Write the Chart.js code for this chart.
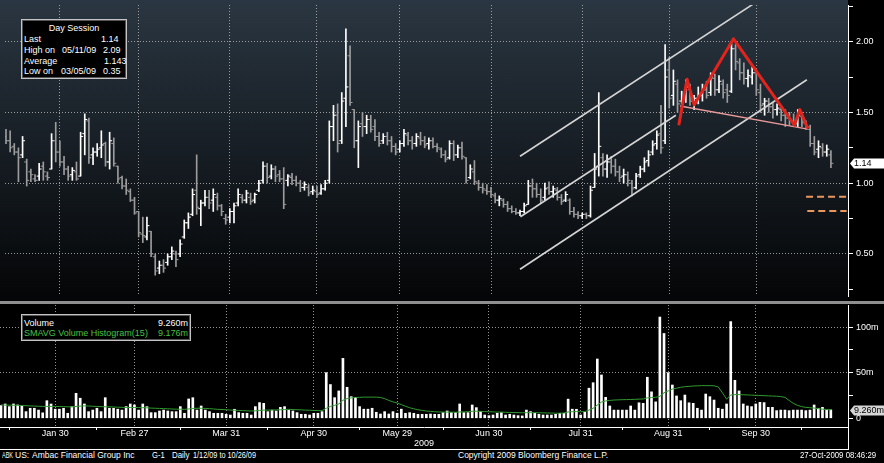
<!DOCTYPE html>
<html>
<head>
<meta charset="utf-8">
<script src="https://cdn.jsdelivr.net/npm/chart.js@4.4.1/dist/chart.umd.min.js"></script>
<style>
  html, body { margin: 0; padding: 0; background: #000; }
  #wrap { position: relative; width: 884px; height: 463px; overflow: hidden; background: #000;
          font-family: "Liberation Sans", Arial, sans-serif; font-size: 9px; color: #fff; }
  #priceBg { position: absolute; left: 0; top: 0; width: 848px; height: 301px;
             background: linear-gradient(#2a3641, #151b21 55%, #040506); }
  canvas { position: absolute; left: 0; }
  #price { top: 0; }
  #vol { top: 305px; }
  #sep { position: absolute; left: 0; top: 301px; width: 884px; height: 3px; background: #8f8f8f; }
  .line { position: absolute; background: #fff; }
  .box { position: absolute; background: #000; border: 1px solid #c4c4c4; box-shadow: inset 0 0 0 1px #555; }
  .t { position: absolute; line-height: 11px; white-space: pre; }
  .ft { position: absolute; top: 450px; line-height: 11px; font-size: 8.5px; white-space: pre; transform-origin: 0 50%; }
  .green { color: #46c046; }
</style>
</head>
<body>
<div id="wrap">
  <div id="priceBg"></div>
  <canvas id="price" width="884" height="301"></canvas>
  <div id="sep"></div>
  <canvas id="vol" width="884" height="144"></canvas>
  <div class="line" style="left:848px;top:427px;width:1px;height:22px"></div>
  <div class="line" style="left:0;top:449px;width:849px;height:1px"></div>

  <div class="box" style="left:21px;top:19px;width:104px;height:58px">
    <div class="t" style="top:3px;left:0;width:104px;text-align:center">Day Session</div>
    <div class="t" style="top:14px;left:2px">Last</div>
    <div class="t" style="top:14px;left:79px">1.14</div>
    <div class="t" style="top:25px;left:2px">High on</div>
    <div class="t" style="top:25px;left:40px">05/11/09</div>
    <div class="t" style="top:25px;left:81px">2.09</div>
    <div class="t" style="top:36px;left:2px">Average</div>
    <div class="t" style="top:36px;left:82px">1.143</div>
    <div class="t" style="top:46px;left:2px">Low on</div>
    <div class="t" style="top:46px;left:39px">03/05/09</div>
    <div class="t" style="top:46px;left:81px">0.35</div>
  </div>

  <div class="box" style="left:21px;top:314px;width:168px;height:25px">
    <div class="t" style="top:3px;left:2px">Volume</div>
    <div class="t" style="top:3px;right:2px">9.260m</div>
    <div class="t green" style="top:13px;left:2px">SMAVG Volume Histogram(15)</div>
    <div class="t green" style="top:13px;right:2px">9.176m</div>
  </div>

  <div class="ft" style="left:2px;transform:scaleX(0.65)">ABK</div>
  <div class="ft" style="left:15px">US:</div>
  <div class="ft" style="left:32px">Ambac Financial Group Inc</div>
  <div class="ft" style="left:152px;transform:scaleX(0.9)">G-1</div>
  <div class="ft" style="left:172px;transform:scaleX(0.93)">Daily</div>
  <div class="ft" style="left:193px;transform:scaleX(0.86)">1/12/09 to 10/26/09</div>
  <div class="ft" style="left:458px">Copyright 2009 Bloomberg Finance L.P.</div>
  <div class="ft" style="left:800px;transform:scaleX(0.92)">27-Oct-2009 08:46:29</div>
</div>

<script>
// trading days 1/12/09 .. 10/26/09, one entry per bar
const open = [
  1.33, 1.30, 1.26, 1.22, 1.20, 1.15, 1.08, 1.03, 1.05, 1.12,
  1.05, 1.10, 1.30, 1.22, 1.15, 1.10, 1.06, 1.08, 1.05, 1.35,
  1.44, 1.20, 1.22, 1.25, 1.28, 1.15, 1.28, 1.12, 1.04, 0.98,
  0.94, 0.88, 0.80, 0.64, 0.62, 0.66, 0.48, 0.40, 0.42, 0.44,
  0.48, 0.50, 0.50, 0.62, 0.72, 0.78, 0.95, 0.82, 0.86, 0.90,
  0.88, 0.90, 0.84, 0.75, 0.76, 0.80, 0.86, 0.90, 0.88, 0.90,
  0.88, 0.95, 1.02, 1.12, 1.05, 1.10, 1.06, 1.03, 1.02, 1.04,
  1.02, 1.00, 0.97, 0.97, 0.94, 0.94, 0.93, 0.96, 1.02, 1.40,
  1.48, 1.30, 1.60, 1.90, 1.52, 1.30, 1.42, 1.40, 1.45, 1.40,
  1.33, 1.30, 1.33, 1.30, 1.26, 1.24, 1.28, 1.34, 1.30, 1.28,
  1.32, 1.30, 1.28, 1.30, 1.26, 1.24, 1.20, 1.18, 1.28, 1.20,
  1.25, 1.18, 1.04, 1.08, 1.00, 0.97, 0.95, 0.94, 0.91, 0.88,
  0.88, 0.85, 0.82, 0.80, 0.79, 0.80, 0.85, 0.98, 0.96, 0.92,
  0.90, 0.97, 0.94, 0.95, 0.90, 0.88, 0.88, 0.80, 0.78, 0.77,
  0.78, 0.77, 0.97, 1.12, 1.18, 1.10, 1.15, 1.12, 1.08, 1.05,
  1.06, 1.00, 0.97, 1.06, 1.10, 1.16, 1.22, 1.28, 1.35, 1.30,
  1.80, 1.62, 1.70, 1.58, 1.60, 1.66, 1.58, 1.60, 1.62, 1.66,
  1.64, 1.74, 1.66, 1.70, 1.66, 1.65, 1.95, 1.85, 1.78, 1.74,
  1.75, 1.78, 1.64, 1.56, 1.58, 1.54, 1.52, 1.52, 1.48, 1.46,
  1.44, 1.42, 1.47, 1.42, 1.38, 1.28, 1.24, 1.25, 1.22, 1.20
];
const high = [
  1.38, 1.37, 1.28, 1.25, 1.33, 1.17, 1.10, 1.06, 1.14, 1.15,
  1.08, 1.35, 1.43, 1.30, 1.19, 1.12, 1.11, 1.15, 1.36, 1.49,
  1.46, 1.25, 1.28, 1.37, 1.29, 1.36, 1.32, 1.12, 1.05, 1.03,
  0.96, 0.90, 0.80, 0.76, 0.76, 0.66, 0.50, 0.45, 0.46, 0.50,
  0.55, 0.52, 0.60, 0.74, 0.79, 0.96, 1.20, 0.88, 0.95, 0.95,
  0.96, 0.93, 0.85, 0.78, 0.82, 0.86, 0.96, 0.92, 0.95, 0.93,
  0.93, 1.02, 1.15, 1.14, 1.13, 1.12, 1.09, 1.11, 1.06, 1.07,
  1.05, 1.02, 1.01, 0.99, 0.98, 0.98, 0.99, 1.02, 1.44, 1.55,
  1.56, 1.64, 2.09, 1.97, 1.52, 1.44, 1.50, 1.48, 1.48, 1.45,
  1.36, 1.35, 1.36, 1.33, 1.28, 1.30, 1.38, 1.36, 1.33, 1.35,
  1.36, 1.33, 1.32, 1.32, 1.28, 1.25, 1.23, 1.30, 1.30, 1.27,
  1.29, 1.18, 1.13, 1.16, 1.02, 1.00, 0.99, 0.97, 0.93, 0.91,
  0.89, 0.87, 0.84, 0.82, 0.81, 0.86, 1.02, 1.03, 1.00, 0.96,
  1.00, 1.01, 0.98, 0.97, 0.92, 0.94, 0.89, 0.83, 0.80, 0.79,
  0.79, 0.98, 1.21, 1.64, 1.21, 1.20, 1.19, 1.17, 1.12, 1.10,
  1.08, 1.02, 1.07, 1.12, 1.18, 1.23, 1.30, 1.37, 1.55, 1.98,
  1.89, 1.80, 1.73, 1.65, 1.73, 1.70, 1.62, 1.68, 1.70, 1.72,
  1.78, 1.77, 1.76, 1.73, 1.70, 2.00, 1.98, 1.88, 1.85, 1.80,
  1.82, 1.80, 1.70, 1.60, 1.60, 1.57, 1.56, 1.55, 1.52, 1.50,
  1.49, 1.52, 1.50, 1.44, 1.41, 1.33, 1.30, 1.28, 1.27, 1.23
];
const low = [
  1.28, 1.22, 1.20, 1.01, 1.18, 0.98, 1.01, 1.01, 1.02, 1.02,
  1.02, 1.10, 1.15, 1.12, 1.06, 1.02, 1.02, 1.02, 1.05, 1.20,
  1.14, 1.13, 1.19, 1.18, 1.12, 1.10, 1.12, 1.00, 0.96, 0.92,
  0.87, 0.78, 0.62, 0.58, 0.60, 0.48, 0.35, 0.36, 0.37, 0.42,
  0.46, 0.41, 0.48, 0.61, 0.68, 0.77, 0.78, 0.70, 0.84, 0.82,
  0.80, 0.81, 0.77, 0.71, 0.72, 0.72, 0.84, 0.86, 0.86, 0.85,
  0.86, 0.94, 1.00, 1.00, 1.03, 1.01, 1.01, 0.82, 0.98, 0.99,
  0.98, 0.94, 0.95, 0.91, 0.92, 0.90, 0.92, 0.95, 1.00, 1.30,
  1.22, 1.28, 1.40, 1.55, 1.25, 1.11, 1.33, 1.35, 1.36, 1.30,
  1.26, 1.28, 1.27, 1.22, 1.20, 1.22, 1.26, 1.27, 1.24, 1.26,
  1.27, 1.25, 1.24, 1.25, 1.22, 1.18, 1.15, 1.17, 1.16, 1.18,
  1.17, 1.00, 1.03, 0.99, 0.95, 0.93, 0.92, 0.90, 0.86, 0.84,
  0.83, 0.80, 0.79, 0.78, 0.77, 0.79, 0.85, 0.90, 0.90, 0.86,
  0.88, 0.92, 0.90, 0.88, 0.85, 0.87, 0.78, 0.76, 0.75, 0.75,
  0.75, 0.76, 0.97, 1.05, 1.05, 1.04, 1.07, 1.05, 1.01, 1.00,
  0.98, 0.91, 0.96, 1.04, 1.08, 1.12, 1.20, 1.24, 1.21, 1.28,
  1.53, 1.55, 1.50, 1.52, 1.57, 1.55, 1.52, 1.56, 1.58, 1.60,
  1.62, 1.62, 1.64, 1.60, 1.57, 1.64, 1.80, 1.73, 1.70, 1.68,
  1.70, 1.62, 1.50, 1.48, 1.50, 1.46, 1.48, 1.44, 1.40, 1.41,
  1.40, 1.40, 1.40, 1.38, 1.26, 1.20, 1.18, 1.19, 1.19, 1.11
];
const close = [
  1.30, 1.25, 1.22, 1.18, 1.30, 1.02, 1.06, 1.02, 1.10, 1.08,
  1.04, 1.30, 1.22, 1.15, 1.10, 1.05, 1.09, 1.03, 1.33, 1.45,
  1.18, 1.22, 1.24, 1.27, 1.15, 1.30, 1.14, 1.03, 0.98, 0.95,
  0.88, 0.79, 0.65, 0.63, 0.70, 0.50, 0.38, 0.42, 0.40, 0.48,
  0.52, 0.46, 0.57, 0.72, 0.76, 0.92, 0.83, 0.86, 0.90, 0.86,
  0.92, 0.84, 0.80, 0.74, 0.80, 0.84, 0.92, 0.88, 0.93, 0.87,
  0.92, 1.00, 1.12, 1.04, 1.10, 1.05, 1.03, 0.85, 1.05, 1.02,
  1.00, 0.97, 0.99, 0.93, 0.95, 0.92, 0.96, 1.00, 1.40, 1.48,
  1.28, 1.58, 1.68, 1.57, 1.30, 1.40, 1.40, 1.45, 1.38, 1.33,
  1.28, 1.33, 1.30, 1.26, 1.22, 1.28, 1.35, 1.30, 1.28, 1.33,
  1.30, 1.27, 1.30, 1.26, 1.25, 1.20, 1.17, 1.28, 1.20, 1.25,
  1.19, 1.02, 1.10, 1.01, 0.97, 0.96, 0.94, 0.92, 0.88, 0.89,
  0.85, 0.82, 0.80, 0.79, 0.80, 0.84, 0.98, 0.96, 0.92, 0.88,
  0.96, 0.94, 0.96, 0.90, 0.87, 0.92, 0.80, 0.78, 0.77, 0.78,
  0.77, 0.95, 1.10, 1.26, 1.10, 1.15, 1.12, 1.08, 1.04, 1.06,
  1.02, 0.96, 1.05, 1.10, 1.15, 1.20, 1.27, 1.34, 1.25, 1.75,
  1.60, 1.72, 1.56, 1.60, 1.68, 1.58, 1.60, 1.63, 1.66, 1.62,
  1.75, 1.66, 1.72, 1.64, 1.62, 1.95, 1.86, 1.78, 1.74, 1.76,
  1.78, 1.66, 1.55, 1.58, 1.54, 1.52, 1.53, 1.48, 1.46, 1.44,
  1.42, 1.48, 1.43, 1.40, 1.28, 1.22, 1.26, 1.22, 1.24, 1.14
];
// volume in millions of shares
const volume = [
  14, 15.7, 12.8, 15.7, 14.6, 13.5, 7.3, 11, 11, 9,
  6, 19.3, 15.7, 10, 10, 11, 5.5, 12.8, 27.4, 22,
  15.7, 7.3, 9, 11, 7.3, 22.6, 11, 11, 10, 9,
  12.8, 15.7, 14.6, 9, 15.7, 12.8, 6.2, 6.2, 8, 9,
  8, 7.3, 7.3, 12.8, 5.5, 21.2, 22.6, 9, 13.5, 9,
  7.3, 5.5, 5.5, 5.5, 4.4, 3.6, 9.9, 6.2, 5.5, 5.5,
  3.6, 12.8, 17.2, 16.4, 7.3, 9, 8, 12, 12.8, 9,
  8, 6.2, 4.4, 4.4, 3.6, 5.5, 5.5, 7.3, 50, 37,
  22.6, 30, 65.7, 34, 23.7, 23, 12.8, 10, 10, 11,
  6.6, 4.7, 7.3, 4.7, 7.3, 5.5, 10, 5.5, 6.2, 5.5,
  4.4, 4.4, 4.4, 4.7, 4.4, 4.4, 6.2, 8, 6.2, 6.2,
  15.7, 6.2, 6.2, 14.6, 11.7, 7.3, 3.6, 2.9, 3.6, 5.5,
  6.2, 3.6, 4.4, 3.6, 2.9, 2.6, 9, 7.3, 5.5, 4.4,
  3.6, 3.6, 3.6, 4.4, 5.5, 5.5, 21, 10, 9.9, 3.6,
  6.6, 33, 39, 65, 47.5, 23, 13.5, 9, 9, 9,
  9, 13.5, 9, 17, 16.4, 45, 29, 18, 111, 93,
  50, 36.5, 24.5, 19.3, 25.5, 17, 16.4, 11, 9, 26.6,
  23.7, 20, 11, 10, 15.7, 106, 41.6, 30, 15.7, 13.5,
  12.8, 15.7, 17.5, 17.2, 12, 12, 8.4, 9, 9, 8.4,
  9, 9, 9, 8.4, 9, 14.6, 11, 12, 9, 9.26
];
// 15-day simple moving average of volume
const smavg = [
  14.6, 14.5, 14.4, 14.3, 14.2, 14.0, 13.8, 13.6, 13.4, 13.2,
  13.0, 13.0, 13.1, 13.0, 12.9, 12.8, 12.6, 12.5, 13.0, 13.4,
  13.6, 13.5, 13.2, 13.0, 12.8, 12.6, 12.6, 12.4, 12.2, 12.0,
  11.8, 11.8, 11.9, 11.8, 11.6, 11.5, 11.2, 11.0, 10.8, 10.6,
  10.4, 10.2, 10.0, 10.0, 9.8, 10.2, 10.8, 11.0, 11.0, 10.8,
  10.6, 10.2, 9.8, 9.6, 9.4, 9.0, 8.8, 8.6, 8.4, 8.2,
  8.0, 8.2, 8.6, 9.0, 9.0, 9.0, 9.2, 9.4, 9.6, 9.8,
  9.6, 9.4, 9.2, 9.0, 8.8, 8.6, 8.4, 8.4, 11.0, 13.0,
  14.2, 15.8, 19.8, 21.6, 22.4, 22.8, 23.0, 23.2, 23.2, 23.2,
  23.2, 22.8, 21.6, 19.6, 18.0, 16.8, 15.0, 13.2, 11.6, 10.4,
  9.4, 8.6, 8.0, 7.6, 7.2, 7.0, 6.8, 6.8, 6.8, 6.6,
  7.0, 7.0, 7.2, 7.6, 7.8, 7.6, 7.4, 7.2, 7.0, 6.8,
  6.8, 6.6, 6.4, 6.4, 6.2, 6.0, 6.2, 6.2, 6.2, 6.0,
  6.0, 5.8, 5.8, 5.6, 5.6, 5.8, 7.0, 7.2, 7.4, 7.2,
  7.4, 9.0, 11.0, 14.5, 17.8, 19.0, 19.6, 20.0, 20.2, 20.4,
  20.5, 20.6, 20.8, 21.0, 21.2, 22.4, 22.8, 23.0, 24.0, 28.0,
  30.0, 32.0, 33.0, 34.0, 34.6, 35.0, 35.4, 35.6, 35.8, 35.8,
  35.8, 35.6, 34.4, 28.0, 21.0, 25.5, 26.0, 26.0, 25.8, 25.6,
  25.4, 25.2, 25.0, 24.8, 24.6, 24.4, 24.2, 23.8, 23.0, 19.6,
  16.4, 14.2, 12.8, 12.0, 11.6, 11.2, 10.6, 10.0, 9.6, 9.18
];

// axis ticks (bar index of the labelled day)
const monthTicks = [13, 32, 54, 75, 95, 117, 139, 160, 181];
const monthLabels = ['Jan 30', 'Feb 27', 'Mar 31', 'Apr 30', 'May 29', 'Jun 30', 'Jul 31', 'Aug 31', 'Sep 30'];
const midTicks = [2, 23, 43, 64, 86, 106, 127, 149, 170, 192];
const priceTicks = [0.25, 0.5, 0.75, 1.0, 1.25, 1.5, 1.75, 2.0, 2.25];
const priceLabels = ['', '0.50', '', '1.00', '', '1.50', '', '2.00', ''];
const volTicks = [0, 25, 50, 75, 100];
const volLabels = ['0', '', '50m', '', '100m'];

// drawn studies, in (bar index, price)
const channelUpper = [{x: 124, y: 1.19}, {x: 181, y: 2.28}];
const channelMid = [{x: 124.1, y: 0.763}, {x: 161.6, y: 1.48}];
const channelLow = [{x: 124, y: 0.392}, {x: 193.2, y: 1.731}];
const headShoulders = [
  {x: 162.3, y: 1.41}, {x: 164.3, y: 1.735}, {x: 166.0, y: 1.553}, {x: 175.5, y: 2.02},
  {x: 190.2, y: 1.41}, {x: 191.5, y: 1.52}, {x: 193.4, y: 1.387}
];
const neckline = [{x: 162.6, y: 1.546}, {x: 193.4, y: 1.382}];
const targetA = [{x: 193, y: 0.905}, {x: 202.8, y: 0.905}];
const targetB = [{x: 193.3, y: 0.804}, {x: 202.8, y: 0.804}];

const lastPrice = 1.14;
const lastVolume = 9.26;

const X_MIN = -0.24, X_MAX = 203.12;
const GRID = 'rgba(175,175,175,0.85)';
const UP = '#ffffff', DOWN = '#9c9c9c';

Chart.defaults.font.family = '"Liberation Sans", Arial, sans-serif';
Chart.defaults.font.size = 9;
Chart.defaults.color = '#fff';

const barColor = c => (close[c.dataIndex] < open[c.dataIndex] ? DOWN : UP);

// white flag on the right axis holding the last value
const lastFlag = {
  id: 'lastFlag',
  afterDraw(chart, args, o) {
    const {ctx, chartArea} = chart;
    const y = Math.round(chart.scales.y.getPixelForValue(o.value)) + 0.5;
    const x = chartArea.right + 2;
    ctx.save();
    ctx.fillStyle = o.fill;
    ctx.beginPath();
    ctx.moveTo(x, y);
    ctx.lineTo(x + 4, y - 5);
    ctx.lineTo(chart.width, y - 5);
    ctx.lineTo(chart.width, y + 5);
    ctx.lineTo(x + 4, y + 5);
    ctx.closePath();
    ctx.fill();
    ctx.fillStyle = '#000';
    ctx.font = '9px "Liberation Sans", Arial, sans-serif';
    ctx.textBaseline = 'middle';
    ctx.fillText(o.text, x + 4, y + 0.5);
    ctx.restore();
  }
};

const idx = close.map((_, i) => i);
const TICK = 0.3;

new Chart(document.getElementById('price'), {
  type: 'bar',
  plugins: [lastFlag],
  data: {
    datasets: [
      {type: 'line', data: headShoulders, borderColor: '#e3241c', borderWidth: 3, borderJoinStyle: 'round', pointRadius: 0, order: 0},
      {type: 'line', data: neckline, borderColor: '#e99a9a', borderWidth: 1.5, pointRadius: 0, order: 1},
      {type: 'line', data: channelUpper, borderColor: '#d4d4d4', borderWidth: 1.6, pointRadius: 0, order: 2},
      {type: 'line', data: channelMid, borderColor: '#d4d4d4', borderWidth: 1.6, pointRadius: 0, order: 2},
      {type: 'line', data: channelLow, borderColor: '#d4d4d4', borderWidth: 1.6, pointRadius: 0, order: 2},
      {type: 'line', data: targetA, borderColor: '#e9975e', borderWidth: 2, borderDash: [7, 4], pointRadius: 0, order: 2},
      {type: 'line', data: targetB, borderColor: '#e9975e', borderWidth: 2, borderDash: [7, 4], pointRadius: 0, order: 2},
      {type: 'line', data: idx.map(i => ({x: i - TICK, y: open[i]})), showLine: false,
       pointStyle: 'line', pointRadius: 1.25, pointBorderWidth: 1, pointBorderColor: barColor, order: 3},
      {type: 'line', data: idx.map(i => ({x: i + TICK, y: close[i]})), showLine: false,
       pointStyle: 'line', pointRadius: 1.25, pointBorderWidth: 1, pointBorderColor: barColor, order: 3},
      {type: 'bar', data: idx.map(i => ({x: i, y: [low[i], high[i]]})), barThickness: 1,
       backgroundColor: barColor, borderWidth: 0, order: 4}
    ]
  },
  options: {
    responsive: false,
    animation: false,
    events: [],
    layout: {padding: 0},
    plugins: {
      legend: {display: false},
      tooltip: {enabled: false},
      lastFlag: {value: lastPrice, text: lastPrice.toFixed(2), fill: '#ffffff'}
    },
    scales: {
      x: {
        type: 'linear', min: X_MIN, max: X_MAX, offset: false,
        afterBuildTicks: s => { s.ticks = monthTicks.map(v => ({value: v})); },
        afterFit: s => { s.height = 0; s.paddingLeft = 0; s.paddingRight = 0; },
        ticks: {display: false},
        grid: {color: GRID, drawTicks: false, offset: false},
        border: {display: false, dash: [1, 2]}
      },
      y: {
        position: 'right', min: 0.2029, max: 2.2589,
        afterBuildTicks: s => { s.ticks = priceTicks.map(v => ({value: v})); },
        afterFit: s => { s.width = 36; s.paddingTop = 0; s.paddingBottom = 0; },
        ticks: {callback: (v, i) => priceLabels[i], color: '#fff', padding: 3, autoSkip: false},
        grid: {color: c => (priceLabels[c.index] ? GRID : 'transparent'), tickColor: '#fff', tickLength: 5},
        border: {display: true, color: '#fff', dash: [1, 2]}
      }
    }
  }
});

// bottom axis carries month labels plus unlabelled mid-month ticks
const xTicks = monthTicks.map((v, i) => ({value: v, label: monthLabels[i]}))
  .concat(midTicks.map(v => ({value: v, label: ''})))
  .sort((a, b) => a.value - b.value);

new Chart(document.getElementById('vol'), {
  type: 'bar',
  plugins: [lastFlag],
  data: {
    datasets: [
      {type: 'line', data: idx.map(i => ({x: i, y: smavg[i]})), borderColor: '#2f9a2f', borderWidth: 1,
       pointRadius: 0, order: 0},
      {type: 'bar', data: idx.map(i => ({x: i, y: volume[i]})), barThickness: 2,
       backgroundColor: '#ffffff', borderWidth: 0, order: 1}
    ]
  },
  options: {
    responsive: false,
    animation: false,
    events: [],
    layout: {padding: 0},
    plugins: {
      legend: {display: false},
      tooltip: {enabled: false},
      lastFlag: {value: lastVolume, text: lastVolume.toFixed(3) + 'm', fill: '#d6d6d6'}
    },
    scales: {
      x: {
        type: 'linear', min: X_MIN, max: X_MAX, offset: false,
        afterBuildTicks: s => { s.ticks = xTicks.map(t => ({value: t.value})); },
        afterFit: s => { s.height = 22; s.paddingLeft = 0; s.paddingRight = 0; },
        ticks: {callback: (v, i) => xTicks[i].label, autoSkip: false, maxRotation: 0, color: '#fff', padding: -2},
        grid: {
          color: c => (xTicks[c.index] && xTicks[c.index].label ? GRID : 'transparent'),
          tickColor: c => (xTicks[c.index] && xTicks[c.index].label ? 'transparent' : '#fff'),
          tickLength: 3, offset: false
        },
        border: {display: true, color: '#fff', dash: [1, 2]},
        title: {display: true, text: '2009', color: '#fff', padding: 0}
      },
      y: {
        position: 'right', min: -9.54, max: 124.2,
        afterBuildTicks: s => { s.ticks = volTicks.map(v => ({value: v})); },
        afterFit: s => { s.width = 36; s.paddingTop = 0; s.paddingBottom = 0; },
        ticks: {callback: (v, i) => volLabels[i], color: '#fff', padding: 3, autoSkip: false},
        grid: {color: c => (volTicks[c.index] > 0 && volLabels[c.index] ? GRID : 'transparent'), tickColor: '#fff', tickLength: 5},
        border: {display: true, color: '#fff', dash: [1, 2]}
      }
    }
  }
});
</script>
</body>
</html>
